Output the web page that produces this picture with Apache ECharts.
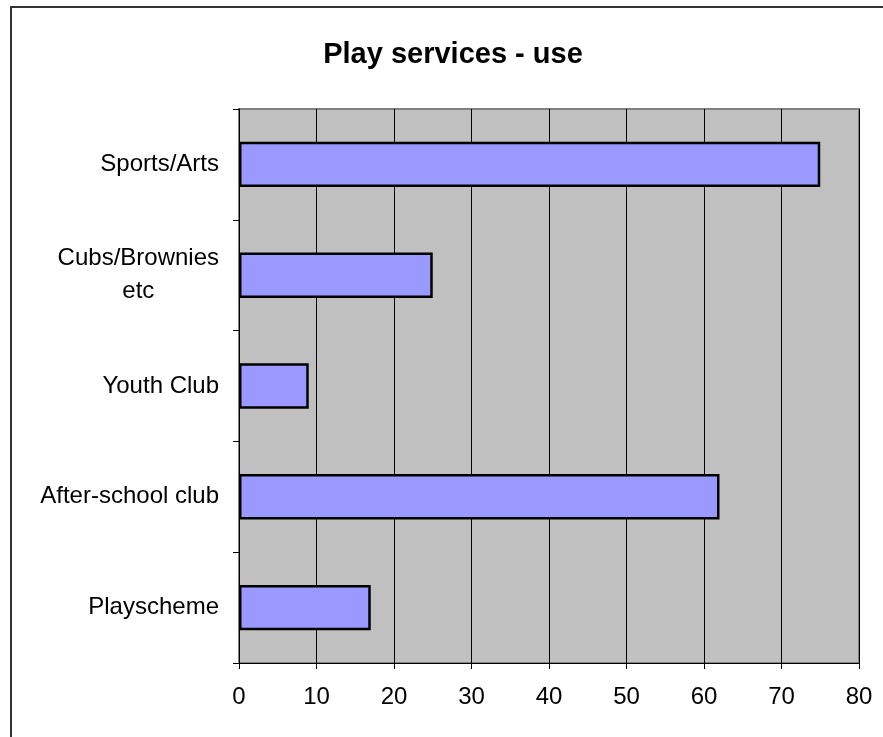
<!DOCTYPE html>
<html>
<head>
<meta charset="utf-8">
<script src="https://cdn.jsdelivr.net/npm/echarts@6/dist/echarts.min.js"></script>
<style>
html,body{margin:0;padding:0;background:#fff;}
#c{width:883px;height:737px;}
</style>
</head>
<body>
<div id="c"></div>
<script>
var categories = ['Sports/Arts', 'Cubs/Brownies\netc', 'Youth Club', 'After-school club', 'Playscheme'];
var values = [75, 25, 9, 62, 17];
var xTicks = [0, 10, 20, 30, 40, 50, 60, 70, 80];

var FONT = 'Liberation Sans, Arial, sans-serif';
var chart = echarts.init(document.getElementById('c'), null, {renderer: 'canvas'});
chart.setOption({
  animation: false,
  backgroundColor: '#ffffff',
  textStyle: {fontFamily: FONT},
  graphic: [{
    type: 'rect',
    shape: {x: 11, y: 7, width: 900, height: 800},
    style: {fill: 'none', stroke: '#333333', lineWidth: 2},
    silent: true, z: 100
  }],
  title: {
    text: 'Play services - use',
    left: 448, top: 35, textAlign: 'center',
    textStyle: {fontSize: 29, fontWeight: 'bold', color: '#000', fontFamily: FONT}
  },
  grid: {
    left: 239, right: 24, top: 109, bottom: 74,
    show: true, backgroundColor: '#c0c0c0', borderColor: '#808080', borderWidth: 2
  },
  xAxis: {
    type: 'value', min: 0, max: 80, interval: 10,
    axisLine: {show: true, lineStyle: {color: '#000', width: 1}},
    axisTick: {show: true, length: 6, lineStyle: {color: '#000'}},
    axisLabel: {
      fontSize: 24, color: '#000', margin: 22, fontFamily: FONT,
      formatter: function (v) { return xTicks.indexOf(v) >= 0 ? String(v) : ''; }
    },
    splitLine: {show: true, lineStyle: {color: '#000', width: 1}}
  },
  yAxis: {
    type: 'category', data: categories, inverse: true,
    axisLine: {show: true, lineStyle: {color: '#000', width: 1}},
    axisTick: {show: true, length: 6, alignWithLabel: false, lineStyle: {color: '#000'}},
    axisLabel: {
      fontSize: 24, color: '#000', margin: 20, align: 'right', fontFamily: FONT,
      formatter: function (v) {
        return v.split('\n').map(function (s) { return '{c|' + s + '}'; }).join('\n');
      },
      rich: {c: {fontSize: 24, lineHeight: 33, align: 'center', color: '#000', fontFamily: FONT}}
    }
  },
  series: [{
    type: 'bar', data: values, barWidth: '41%',
    itemStyle: {color: '#9999ff', borderColor: '#000', borderWidth: 2.5},
    silent: true
  }]
});
</script>
</body>
</html>
